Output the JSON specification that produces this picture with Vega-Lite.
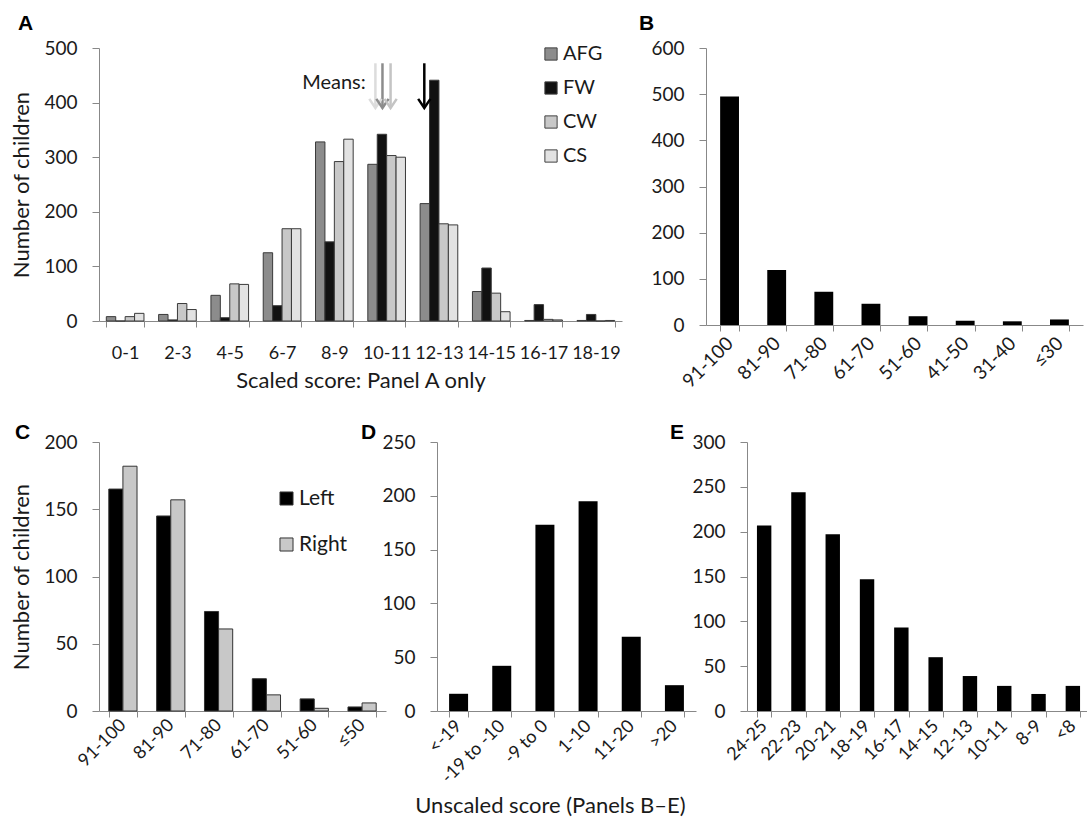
{
  "$schema": "https://vega.github.io/schema/vega-lite/v6.json",
  "padding": {"left": 10, "top": 13, "right": 0, "bottom": 5},
  "background": "white",
  "config": {
    "font": "Lato",
    "view": {"stroke": null},
    "axis": {"domainColor": "#888888", "tickColor": "#888888", "labelColor": "#1a1a1a", "titleColor": "#1a1a1a", "labelFont": "Lato", "titleFont": "Lato", "labelFontSize": 19, "titleFontSize": 22, "titleFontWeight": "normal", "grid": false, "tickSize": 6},
    "legend": {"labelFont": "Lato", "labelFontSize": 20, "labelColor": "#1a1a1a"}
  },
  "spacing": 30,
  "resolve": {"scale": {"color": "independent", "x": "independent", "y": "independent", "xOffset": "independent", "stroke": "independent"}, "legend": {"color": "independent"}},
  "vconcat": [
    {
      "bounds": "flush",
      "spacing": 84,
      "resolve": {"scale": {"color": "independent", "x": "independent", "y": "independent", "xOffset": "independent"}, "legend": {"color": "independent"}},
      "hconcat": [
        {
          "width": 523,
          "height": 273,
          "title": {"text": "A", "anchor": "start", "frame": "group", "dx": -81, "offset": 5, "font": "Liberation Sans", "fontWeight": "bold", "fontSize": 21, "color": "#000000"},
          "resolve": {"scale": {"x": "independent"}},
          "layer": [
            {
              "data": {"values": [
                {"bin": "0-1", "series": "AFG", "count": 8}, {"bin": "0-1", "series": "FW", "count": 0}, {"bin": "0-1", "series": "CW", "count": 8}, {"bin": "0-1", "series": "CS", "count": 14},
                {"bin": "2-3", "series": "AFG", "count": 12}, {"bin": "2-3", "series": "FW", "count": 2}, {"bin": "2-3", "series": "CW", "count": 32}, {"bin": "2-3", "series": "CS", "count": 21},
                {"bin": "4-5", "series": "AFG", "count": 47}, {"bin": "4-5", "series": "FW", "count": 6}, {"bin": "4-5", "series": "CW", "count": 68}, {"bin": "4-5", "series": "CS", "count": 67},
                {"bin": "6-7", "series": "AFG", "count": 125}, {"bin": "6-7", "series": "FW", "count": 28}, {"bin": "6-7", "series": "CW", "count": 169}, {"bin": "6-7", "series": "CS", "count": 169},
                {"bin": "8-9", "series": "AFG", "count": 328}, {"bin": "8-9", "series": "FW", "count": 145}, {"bin": "8-9", "series": "CW", "count": 292}, {"bin": "8-9", "series": "CS", "count": 333},
                {"bin": "10-11", "series": "AFG", "count": 287}, {"bin": "10-11", "series": "FW", "count": 342}, {"bin": "10-11", "series": "CW", "count": 303}, {"bin": "10-11", "series": "CS", "count": 300},
                {"bin": "12-13", "series": "AFG", "count": 215}, {"bin": "12-13", "series": "FW", "count": 441}, {"bin": "12-13", "series": "CW", "count": 178}, {"bin": "12-13", "series": "CS", "count": 176},
                {"bin": "14-15", "series": "AFG", "count": 54}, {"bin": "14-15", "series": "FW", "count": 97}, {"bin": "14-15", "series": "CW", "count": 51}, {"bin": "14-15", "series": "CS", "count": 17},
                {"bin": "16-17", "series": "AFG", "count": 1}, {"bin": "16-17", "series": "FW", "count": 30}, {"bin": "16-17", "series": "CW", "count": 3}, {"bin": "16-17", "series": "CS", "count": 2},
                {"bin": "18-19", "series": "AFG", "count": 1}, {"bin": "18-19", "series": "FW", "count": 12}, {"bin": "18-19", "series": "CW", "count": 0}, {"bin": "18-19", "series": "CS", "count": 1}
              ]},
              "mark": {"type": "bar", "stroke": "#3a3a3a", "strokeWidth": 1},
              "encoding": {
                "x": {"field": "bin", "type": "nominal", "sort": null, "scale": {"paddingInner": 0.28, "paddingOuter": 0.14}, "axis": {"title": "Scaled score: Panel A only", "labelAngle": 0, "tickBand": "extent", "labelPadding": 17, "titlePadding": 8, "labelFontSize": 18}},
                "xOffset": {"field": "series", "type": "nominal", "sort": ["AFG", "FW", "CW", "CS"]},
                "y": {"field": "count", "type": "quantitative", "scale": {"domain": [0, 500]}, "axis": {"title": "Number of children", "values": [0, 100, 200, 300, 400, 500], "labelPadding": 15, "titlePadding": 10, "tickSize": 7}},
                "color": {"field": "series", "type": "nominal", "scale": {"domain": ["AFG", "FW", "CW", "CS"], "range": ["#8c8c8c", "#111111", "#c8c8c8", "#e2e2e2"]},
                  "legend": {"title": null, "orient": "none", "legendX": 442, "legendY": -4, "symbolType": "square", "symbolSize": 150, "symbolStrokeColor": "#404040", "symbolStrokeWidth": 1, "labelOffset": 2, "rowPadding": 14, "labelFontSize": 20}}
              }
            },
            {
              "data": {"values": [
                {"series": "CS", "mean": 10.57}, {"series": "AFG", "mean": 10.84}, {"series": "CW", "mean": 11.15}, {"series": "FW", "mean": 12.44}
              ]},
              "mark": {"type": "rule", "strokeWidth": 2.5},
              "encoding": {
                "x": {"field": "mean", "type": "quantitative", "scale": {"domain": [0, 20], "nice": false, "zero": false}, "axis": null},
                "y": {"datum": 472, "type": "quantitative"},
                "y2": {"datum": 390},
                "stroke": {"field": "series", "type": "nominal", "scale": {"domain": ["AFG", "FW", "CW", "CS"], "range": ["#8c8c8c", "#000000", "#c4c4c4", "#dcdcdc"]}, "legend": null}
              }
            },
            {
              "data": {"values": [
                {"series": "CS", "mean": 10.57}, {"series": "AFG", "mean": 10.84}, {"series": "CW", "mean": 11.15}, {"series": "FW", "mean": 12.44}
              ]},
              "mark": {"type": "point", "shape": "M-1,-1.5L0,0L1,-1.5", "filled": false, "size": 150, "strokeWidth": 2.5, "opacity": 1},
              "encoding": {
                "x": {"field": "mean", "type": "quantitative", "scale": {"domain": [0, 20], "nice": false, "zero": false}, "axis": null},
                "y": {"datum": 390, "type": "quantitative"},
                "stroke": {"field": "series", "type": "nominal", "scale": {"domain": ["AFG", "FW", "CW", "CS"], "range": ["#8c8c8c", "#000000", "#c4c4c4", "#dcdcdc"]}, "legend": null}
              }
            },
            {
              "data": {"values": [{"label": "Means:"}]},
              "mark": {"type": "text", "align": "right", "baseline": "middle", "fontSize": 20, "font": "Lato", "color": "#1a1a1a"},
              "encoding": {
                "x": {"datum": 10.2, "type": "quantitative", "scale": {"domain": [0, 20], "nice": false, "zero": false}, "axis": null},
                "y": {"datum": 436, "type": "quantitative"},
                "text": {"field": "label"}
              }
            }
          ]
        },
        {
          "width": 377,
          "height": 277,
          "title": {"text": "B", "anchor": "start", "frame": "group", "dx": -67, "offset": 5, "font": "Liberation Sans", "fontWeight": "bold", "fontSize": 21, "color": "#000000"},
          "data": {"values": [
            {"bin": "91-100", "count": 495}, {"bin": "81-90", "count": 119}, {"bin": "71-80", "count": 72}, {"bin": "61-70", "count": 46},
            {"bin": "51-60", "count": 19}, {"bin": "41-50", "count": 9}, {"bin": "31-40", "count": 8}, {"bin": "≤30", "count": 12}
          ]},
          "mark": {"type": "bar", "color": "#000000"},
          "encoding": {
            "x": {"field": "bin", "type": "nominal", "sort": null, "scale": {"paddingInner": 0.6, "paddingOuter": 0.3}, "axis": {"title": null, "labelAngle": -45, "labelAlign": "right", "labelBaseline": "middle", "tickBand": "extent", "labelPadding": 9}},
            "y": {"field": "count", "type": "quantitative", "scale": {"domain": [0, 600]}, "axis": {"title": null, "values": [0, 100, 200, 300, 400, 500, 600], "labelPadding": 15, "tickSize": 7}}
          }
        }
      ]
    },
    {
      "bounds": "flush",
      "spacing": 51,
      "resolve": {"scale": {"color": "independent", "x": "independent", "y": "independent", "xOffset": "independent"}, "legend": {"color": "independent"}},
      "title": {"text": "Unscaled score (Panels B–E)", "orient": "bottom", "anchor": "middle", "frame": "bounds", "font": "Lato", "fontSize": 22, "fontWeight": "normal", "color": "#1a1a1a", "offset": 9},
      "hconcat": [
        {
          "width": 287,
          "height": 269,
          "title": {"text": "C", "anchor": "start", "frame": "group", "dx": -84, "dy": 10, "offset": 0, "font": "Liberation Sans", "fontWeight": "bold", "fontSize": 21, "color": "#000000"},
          "data": {"values": [
            {"bin": "91-100", "side": "Left", "count": 165}, {"bin": "91-100", "side": "Right", "count": 182},
            {"bin": "81-90", "side": "Left", "count": 145}, {"bin": "81-90", "side": "Right", "count": 157},
            {"bin": "71-80", "side": "Left", "count": 74}, {"bin": "71-80", "side": "Right", "count": 61},
            {"bin": "61-70", "side": "Left", "count": 24}, {"bin": "61-70", "side": "Right", "count": 12},
            {"bin": "51-60", "side": "Left", "count": 9}, {"bin": "51-60", "side": "Right", "count": 2},
            {"bin": "≤50", "side": "Left", "count": 3}, {"bin": "≤50", "side": "Right", "count": 6}
          ]},
          "mark": {"type": "bar", "stroke": "#333333", "strokeWidth": 1},
          "encoding": {
            "x": {"field": "bin", "type": "nominal", "sort": null, "scale": {"paddingInner": 0.41, "paddingOuter": 0.205}, "axis": {"title": null, "labelAngle": -45, "labelAlign": "right", "labelBaseline": "middle", "tickBand": "extent", "labelPadding": 5, "labelFontSize": 18}},
            "xOffset": {"field": "side", "type": "nominal", "sort": ["Left", "Right"]},
            "y": {"field": "count", "type": "quantitative", "scale": {"domain": [0, 200]}, "axis": {"title": "Number of children", "values": [0, 50, 100, 150, 200], "labelPadding": 15, "titlePadding": 10, "tickSize": 7}},
            "color": {"field": "side", "type": "nominal", "scale": {"domain": ["Left", "Right"], "range": ["#000000", "#c8c8c8"]},
              "legend": {"title": null, "orient": "none", "legendX": 177, "legendY": 46, "symbolType": "square", "symbolSize": 170, "symbolStrokeColor": "#333333", "symbolStrokeWidth": 1, "labelOffset": 2, "rowPadding": 24, "labelFontSize": 21}}
          }
        },
        {
          "width": 259,
          "height": 269,
          "title": {"text": "D", "anchor": "start", "frame": "group", "dx": -76, "dy": 10, "offset": 0, "font": "Liberation Sans", "fontWeight": "bold", "fontSize": 21, "color": "#000000"},
          "data": {"values": [
            {"bin": "<-19", "count": 16}, {"bin": "-19 to -10", "count": 42}, {"bin": "-9 to 0", "count": 173},
            {"bin": "1-10", "count": 195}, {"bin": "11-20", "count": 69}, {"bin": ">20", "count": 24}
          ]},
          "mark": {"type": "bar", "color": "#000000"},
          "encoding": {
            "x": {"field": "bin", "type": "nominal", "sort": null, "scale": {"paddingInner": 0.56, "paddingOuter": 0.28}, "axis": {"title": null, "labelAngle": -45, "labelAlign": "right", "labelBaseline": "middle", "tickBand": "extent", "labelPadding": 6, "labelFontSize": 18}},
            "y": {"field": "count", "type": "quantitative", "scale": {"domain": [0, 250]}, "axis": {"title": null, "values": [0, 50, 100, 150, 200, 250], "labelPadding": 15, "tickSize": 7}}
          }
        },
        {
          "width": 343,
          "height": 269,
          "title": {"text": "E", "anchor": "start", "frame": "group", "dx": -77, "dy": 10, "offset": 0, "font": "Liberation Sans", "fontWeight": "bold", "fontSize": 21, "color": "#000000"},
          "data": {"values": [
            {"bin": "24-25", "count": 207}, {"bin": "22-23", "count": 244}, {"bin": "20-21", "count": 197}, {"bin": "18-19", "count": 147},
            {"bin": "16-17", "count": 93}, {"bin": "14-15", "count": 60}, {"bin": "12-13", "count": 39}, {"bin": "10-11", "count": 28},
            {"bin": "8-9", "count": 19}, {"bin": "<8", "count": 28}
          ]},
          "mark": {"type": "bar", "color": "#000000"},
          "encoding": {
            "x": {"field": "bin", "type": "nominal", "sort": null, "scale": {"paddingInner": 0.58, "paddingOuter": 0.29}, "axis": {"title": null, "labelAngle": -45, "labelAlign": "right", "labelBaseline": "middle", "tickBand": "extent", "labelPadding": 6, "labelFontSize": 18}},
            "y": {"field": "count", "type": "quantitative", "scale": {"domain": [0, 300]}, "axis": {"title": null, "values": [0, 50, 100, 150, 200, 250, 300], "labelPadding": 15, "tickSize": 7}}
          }
        }
      ]
    }
  ]
}
